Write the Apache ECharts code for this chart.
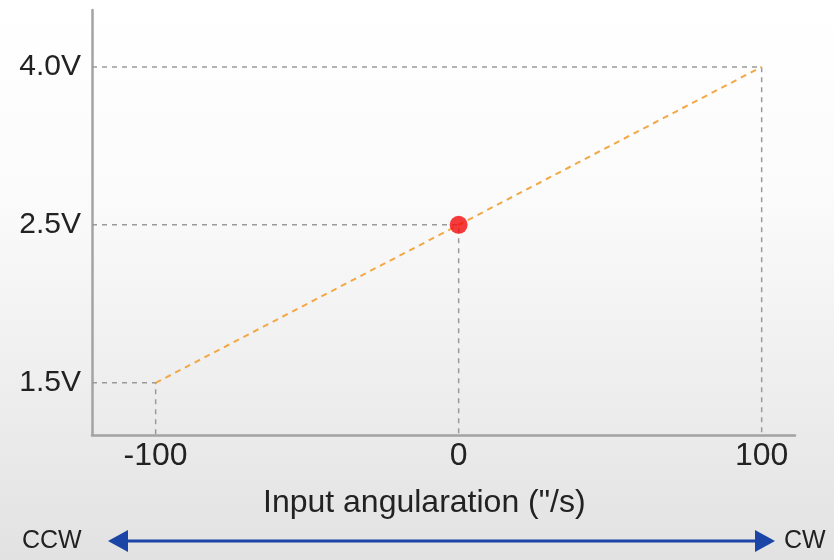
<!DOCTYPE html>
<html>
<head>
<meta charset="utf-8">
<script src="https://cdn.jsdelivr.net/npm/echarts@6/dist/echarts.min.js"></script>
<style>
  html, body { margin: 0; padding: 0; }
  #chart { width: 834px; height: 560px; }
</style>
</head>
<body>
<div id="chart"></div>
<script>
// Gyro output voltage versus input angular rate (schematic, ordinal voltage levels)
const voltageLevels = ['1.5V', '2.5V', '4.0V'];   // y tick labels, bottom to top
const rateTicks = [-100, 0, 100];                 // x tick labels
const rateValues = [-100, 0, 100];                // input angular rate
const outputLevels = ['1.5V', '2.5V', '4.0V'];    // output at each rate
const zeroRate = 0;                               // highlighted point
const zeroOutput = '2.5V';
const axisTitle = 'Input angularation (\"/s)';
const leftDir = 'CCW';
const rightDir = 'CW';

const X_MIN = -121, X_MAX = 111;
const Y_MIN = -0.33, Y_MAX = 2.36;

const lvl = v => voltageLevels.indexOf(v);

// dashed guide lines: from the y axis to each point, then down to the x axis
const guideSeries = rateValues.map((x, i) => ({
  type: 'line',
  silent: true,
  symbol: 'none',
  data: [[X_MIN, lvl(outputLevels[i])], [x, lvl(outputLevels[i])], [x, Y_MIN]],
  lineStyle: { color: '#9a9a9a', width: 1.5, type: [5, 5] },
  z: 1
}));

const chart = echarts.init(document.getElementById('chart'));
chart.setOption({
  animation: false,
  backgroundColor: {
    type: 'linear', x: 0, y: 0, x2: 0, y2: 1,
    colorStops: [
      { offset: 0, color: '#ffffff' },
      { offset: 0.35, color: '#fbfbfb' },
      { offset: 1, color: '#e2e2e2' }
    ]
  },
  grid: { left: 92, right: 39, top: 10, bottom: 125 },
  xAxis: {
    type: 'value',
    min: X_MIN, max: X_MAX,
    axisLine: { show: true, onZero: false, lineStyle: { color: '#a3a3a3', width: 2.5 } },
    axisTick: { show: false },
    splitLine: { show: false },
    axisLabel: {
      customValues: rateTicks,
      margin: 5,
      fontFamily: 'Liberation Sans',
      fontSize: 32,
      color: '#222'
    }
  },
  yAxis: {
    type: 'value',
    min: Y_MIN, max: Y_MAX,
    axisLine: { show: true, onZero: false, lineStyle: { color: '#a3a3a3', width: 2.5 } },
    axisTick: { show: false },
    splitLine: { show: false },
    axisLabel: {
      customValues: voltageLevels.map((_, i) => i),
      formatter: v => voltageLevels[Math.round(v)],
      margin: 11,
      fontFamily: 'Liberation Sans',
      fontSize: 30,
      color: '#222'
    }
  },
  series: [
    ...guideSeries,
    {
      type: 'line',
      silent: true,
      symbol: 'none',
      data: [[rateValues[0], lvl(outputLevels[0])], [rateValues[2], lvl(outputLevels[2])]],
      lineStyle: { color: '#f3a845', width: 2, type: [6, 5] },
      z: 2
    },
    {
      type: 'scatter',
      symbol: 'circle',
      symbolSize: 18,
      data: [[zeroRate, lvl(zeroOutput)]],
      itemStyle: { color: '#f20a0a' },
      z: 3
    }
  ],
  graphic: [
    {
      type: 'text', left: 263, top: 487,
      style: { text: axisTitle, fontFamily: 'Liberation Sans', fontSize: 32, fill: '#222' }
    },
    {
      type: 'text', left: 22, top: 529,
      style: { text: leftDir, fontFamily: 'Liberation Sans', fontSize: 25, fill: '#222' }
    },
    {
      type: 'text', left: 784, top: 529,
      style: { text: rightDir, fontFamily: 'Liberation Sans', fontSize: 25, fill: '#222' }
    },
    {
      type: 'line',
      shape: { x1: 125, y1: 541, x2: 760, y2: 541 },
      style: { stroke: '#1a44a6', lineWidth: 3 }
    },
    {
      type: 'polygon',
      shape: { points: [[108, 541], [128, 530], [128, 552]] },
      style: { fill: '#1a44a6' }
    },
    {
      type: 'polygon',
      shape: { points: [[775, 541], [755, 530], [755, 552]] },
      style: { fill: '#1a44a6' }
    }
  ]
});
</script>
</body>
</html>
